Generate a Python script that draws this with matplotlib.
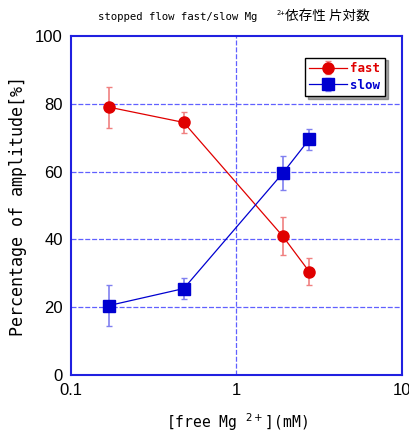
import numpy as np
import matplotlib.pyplot as plt
from matplotlib.ticker import FixedLocator, NullLocator

plt.rcParams['font.family'] = ['Liberation Sans', 'Noto Sans CJK JP']

mg = [0.17, 0.48, 1.9, 2.75]
fast = [79, 74.5, 41, 30.5]
fast_err = [6, 3, 5.5, 4]
slow_mg = [0.17, 0.48, 1.9, 2.75]
slow = [20.5, 25.5, 59.5, 69.5]
slow_err = [6, 3, 5, 3]

x_ticks = [0.1, 1, 10]
x_ticklabels = ['0.1', '1', '10']
y_ticks = [0, 20, 40, 60, 80, 100]

mono = ['DejaVu Sans Mono', 'Noto Sans CJK JP']

fig = plt.figure(figsize=(4.1, 4.36), dpi=100)
ax = fig.add_axes([71 / 410, 1 - 375 / 436, 331 / 410, 339 / 436])

ax.errorbar(mg, fast, yerr=fast_err, color='#e00000', ecolor='#f08080',
            elinewidth=1.2, capsize=2.5, lw=0.9, marker='o', ms=8,
            label='fast', zorder=3)
ax.errorbar(slow_mg, slow, yerr=slow_err, color='#0000d0', ecolor='#8080f0',
            elinewidth=1.2, capsize=2.5, lw=0.9, marker='s', ms=8,
            label='slow', zorder=3)

ax.set_xscale('log')
ax.set_xlim(0.1, 10)
ax.set_ylim(0, 100)
ax.xaxis.set_major_locator(FixedLocator(x_ticks))
ax.xaxis.set_minor_locator(NullLocator())
ax.set_xticklabels(x_ticklabels)
ax.set_yticks(y_ticks)
ax.tick_params(length=0, labelsize=12, pad=6)

for yv in [20, 40, 60, 80]:
    ax.axhline(yv, color='#6060ff', lw=0.9, ls=(0, (4, 1.5)), zorder=1)
ax.axvline(1, color='#6060ff', lw=0.9, ls=(0, (4, 1.5)), zorder=1)

for sp in ax.spines.values():
    sp.set_color('#2020e0')
    sp.set_linewidth(1.5)

ax.set_xlabel('[free Mg $^{2+}$](mM)', fontsize=10.5, labelpad=9, family=mono)
ax.set_ylabel('Percentage of amplitude[%]', fontsize=12, labelpad=6, family=mono)

# title pieces: mathtext would drop the CJK fallback, so split it up
fig.text(257 / 410, 1 - 17 / 436, 'stopped flow fast/slow Mg',
         ha='right', va='center', fontsize=7.7, family='DejaVu Sans Mono')
fig.text(276 / 410, 1 - 13 / 436, '2+', ha='left', va='center',
         fontsize=5, family='DejaVu Sans Mono')
fig.text(285 / 410, 1 - 17 / 436, '依存性 片対数', ha='left', va='center',
         fontsize=9.8, family='Noto Sans CJK JP')

leg = ax.legend(loc='upper right', bbox_to_anchor=(0.967, 0.955),
                fancybox=False, shadow=True, handlelength=3.0,
                borderpad=0.35, labelspacing=0.3, handletextpad=0.3,
                prop={'family': 'DejaVu Sans Mono', 'weight': 'bold', 'size': 9})
leg.get_frame().set_edgecolor('black')
for t, c in zip(leg.get_texts(), ['#e00000', '#0000d0']):
    t.set_color(c)

fig.savefig('out.png', dpi=100)
